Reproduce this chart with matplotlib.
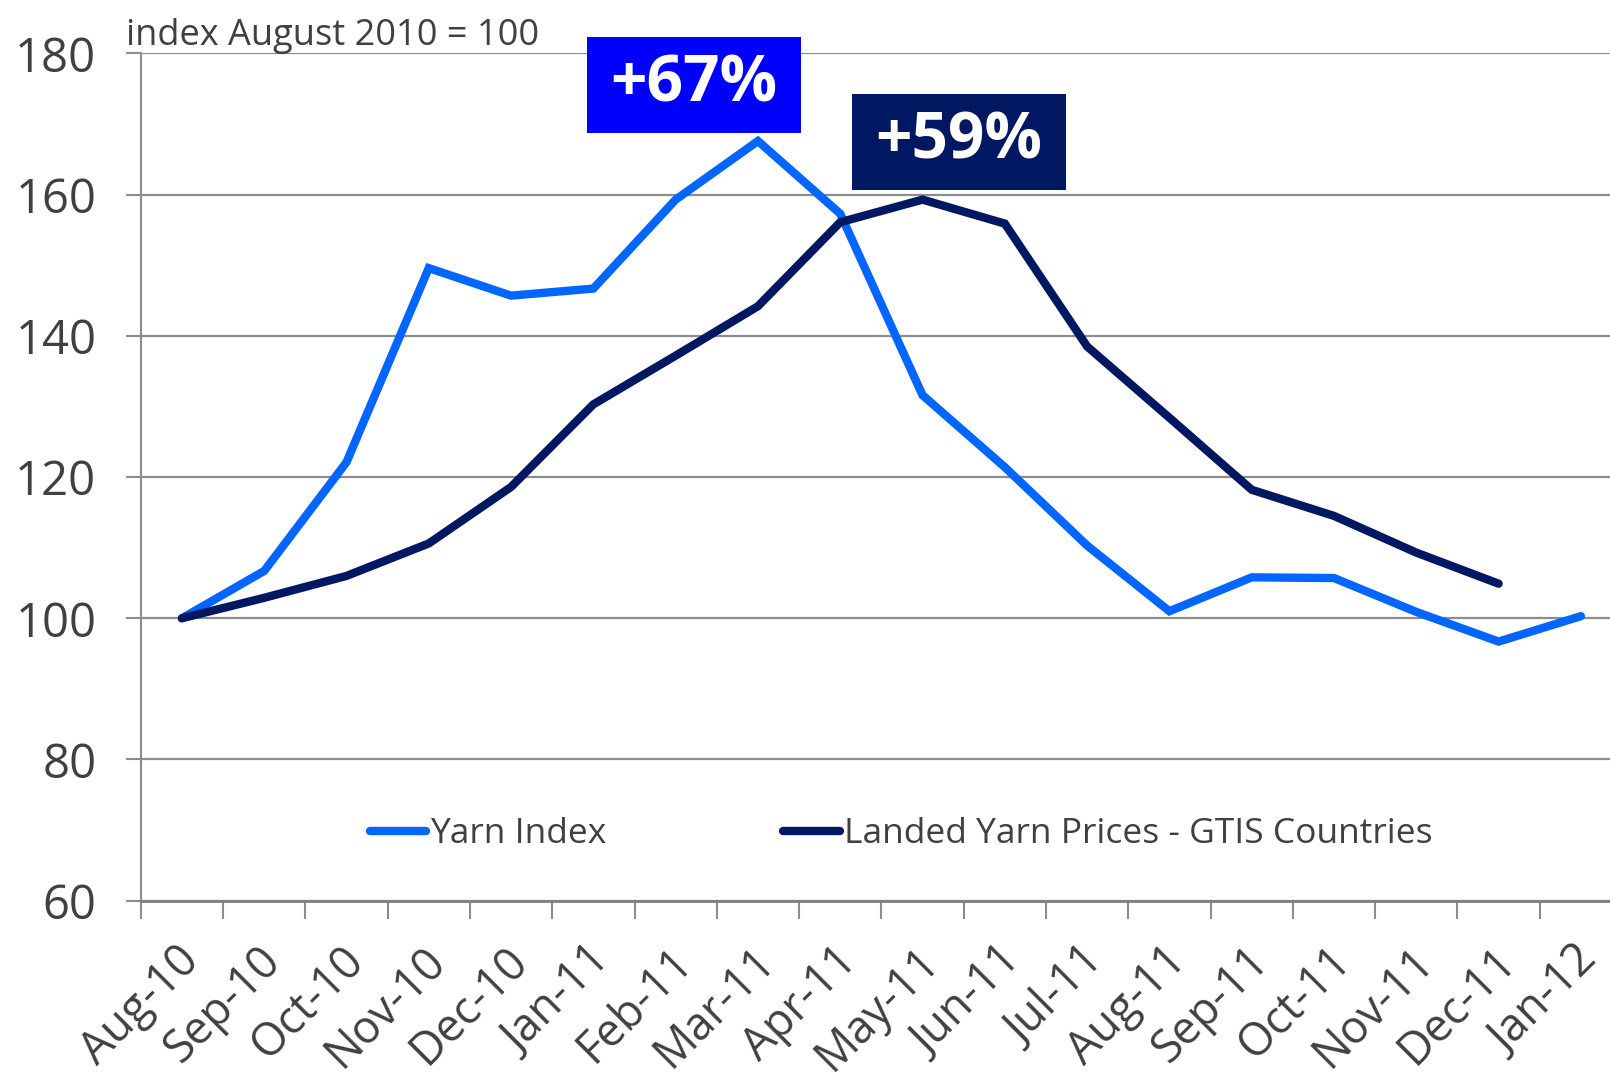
import matplotlib
matplotlib.use("Agg")
import matplotlib.pyplot as plt
import matplotlib.transforms as mtrans
from matplotlib.patches import Rectangle
import numpy as np

months = ["Aug-10", "Sep-10", "Oct-10", "Nov-10", "Dec-10", "Jan-11", "Feb-11",
          "Mar-11", "Apr-11", "May-11", "Jun-11", "Jul-11", "Aug-11", "Sep-11",
          "Oct-11", "Nov-11", "Dec-11", "Jan-12"]
yarn_index = [100.0, 106.7, 122.1, 149.6, 145.7, 146.7, 159.3, 167.6, 157.3,
              131.6, 121.4, 110.3, 101.0, 105.8, 105.7, 100.9, 96.7, 100.3]
landed_prices = [100.0, 102.9, 106.0, 110.6, 118.6, 130.3, 137.2, 144.2, 156.1,
                 159.3, 155.9, 138.5, 128.4, 118.2, 114.5, 109.3, 104.9, np.nan]
yticks = [60, 80, 100, 120, 140, 160, 180]
callouts = ["+67%", "+59%"]

plt.rcParams['font.family'] = ['Open Sans', 'DejaVu Sans']
TXT = "#404040"
GRID = "#8C8C8C"
C1 = "#0066FF"
C2 = "#001862"

fig = plt.figure(figsize=(16.10, 10.87), dpi=100)
ax = fig.add_axes([0.0874, 0.1714, 0.9201, 0.7794])

x = np.arange(len(months))
ax.plot(x, yarn_index, color=C1, lw=6, solid_capstyle='round',
        solid_joinstyle='miter', label="Yarn Index", zorder=3)
ax.plot(x, landed_prices, color=C2, lw=6, solid_capstyle='round',
        solid_joinstyle='miter', label="Landed Yarn Prices - GTIS Countries", zorder=3)

ax.set_xlim(-0.5, len(months) - 0.5)
ax.set_ylim(60, 180)
ax.set_yticks(yticks)
ax.set_yticklabels([str(v) for v in yticks])
ax.yaxis.grid(True, color=GRID, lw=1.6)
ax.set_axisbelow(True)

# major ticks at category boundaries, labels at centers
ax.set_xticks(np.arange(-0.5, len(months) + 0.5, 1))
ax.set_xticklabels([])
ax.set_xticks(x, minor=True)
ax.set_xticklabels(months, minor=True, rotation=45, ha='right', va='top',
                   rotation_mode='anchor', fontsize=32.5, color=TXT)
ax.tick_params(axis='x', which='major', length=13, width=1.5, color=GRID)
ax.tick_params(axis='x', which='minor', length=0, pad=27)
ax.tick_params(axis='y', length=11, width=1.5, color=GRID, labelsize=34,
               labelcolor=TXT, pad=21)
shift = mtrans.ScaledTranslation(-6 / 100, 0, fig.dpi_scale_trans)
for lbl in ax.get_xticklabels(minor=True):
    lbl.set_transform(lbl.get_transform() + shift)

for s in ['top', 'right']:
    ax.spines[s].set_visible(False)
ax.spines['left'].set_color(GRID)
ax.spines['left'].set_linewidth(1.5)
ax.spines['bottom'].set_color("#7F7F7F")
ax.spines['bottom'].set_linewidth(2)

fig.text(0.078, 0.967, "index August 2010 = 100", fontsize=26, color=TXT,
         ha='left', va='center')

leg = fig.legend(loc='center', bbox_to_anchor=(0.5596, 0.2325), ncol=2,
                 frameon=False, fontsize=25.5, handlelength=1.6, handletextpad=0.1,
                 columnspacing=5.0, labelcolor=TXT)
for h in leg.legend_handles:
    h.set_solid_capstyle('round')

boxes = [(0.3646, 0.8776, "#0000FF"), (0.5292, 0.8252, C2)]
for (bx, by, bc), txt in zip(boxes, callouts):
    fig.patches.append(Rectangle((bx, by), 0.1329, 0.0883, transform=fig.transFigure,
                                 facecolor=bc, edgecolor='none', zorder=5))
    fig.text(bx + 0.1329 / 2, by + 0.0883 / 2, txt, fontsize=46, fontweight='bold',
             color='white', ha='center', va='center', zorder=6)

fig.savefig("out.png", dpi=100)
